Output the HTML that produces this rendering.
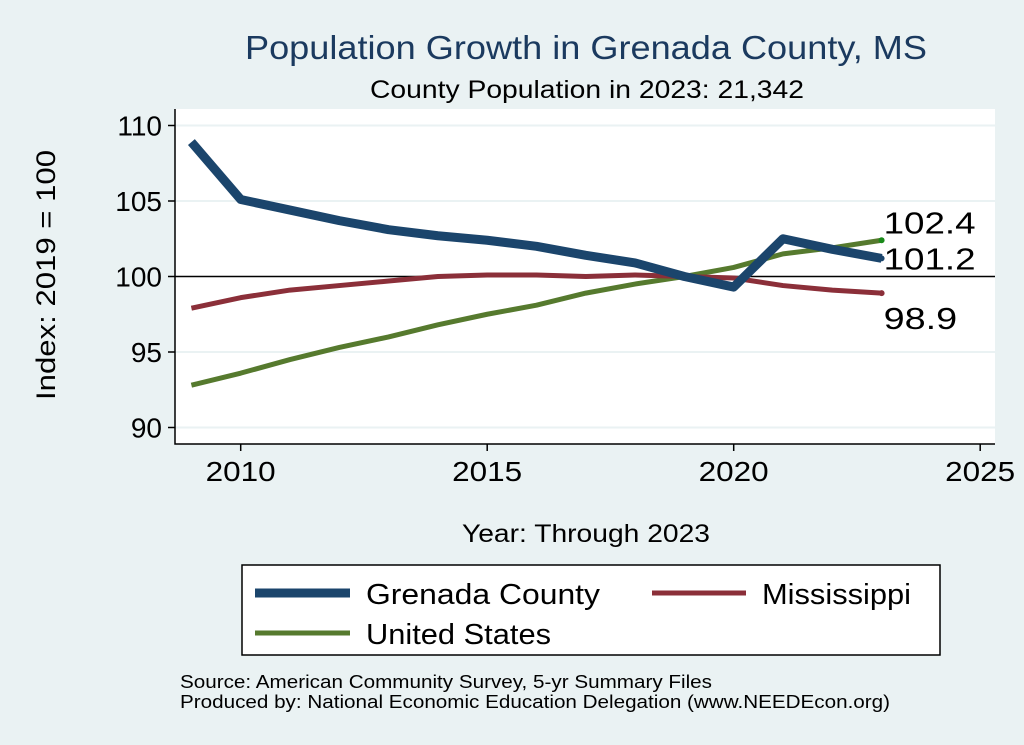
<!DOCTYPE html>
<html><head><meta charset="utf-8"><style>
body{margin:0;background:#eaf2f3;}
svg{display:block;font-family:"Liberation Sans",sans-serif;}
</style></head><body>
<svg width="1024" height="745">
<rect x="0" y="0" width="1024" height="745" fill="#eaf2f3"/>
<text x="245" y="59" font-size="33" fill="#1b3a5f" textLength="682" lengthAdjust="spacingAndGlyphs">Population Growth in Grenada County, MS</text>
<text x="370" y="98" font-size="25" fill="#000" textLength="434" lengthAdjust="spacingAndGlyphs">County Population in 2023: 21,342</text>
<rect x="175" y="109" width="820" height="335" fill="#fff"/>
<g id="grid"></g>
<g id="series"></g>
<g id="axes"></g>
<text x="55" y="400" font-size="27" textLength="250" lengthAdjust="spacingAndGlyphs" transform="rotate(-90 55 400)">Index: 2019 = 100</text>
<text x="462" y="542" font-size="25" textLength="248" lengthAdjust="spacingAndGlyphs">Year: Through 2023</text>
<g>
<rect x="242" y="565" width="698" height="90" fill="#fff" stroke="#000" stroke-width="1.5"/>
<line x1="255" y1="593" x2="350" y2="593" stroke="#1b456c" stroke-width="9"/>
<text x="366" y="604" font-size="29" textLength="234" lengthAdjust="spacingAndGlyphs">Grenada  County</text>
<line x1="652" y1="593" x2="746" y2="593" stroke="#8b2f39" stroke-width="5"/>
<text x="762" y="604" font-size="29" textLength="149" lengthAdjust="spacingAndGlyphs">Mississippi</text>
<line x1="255" y1="633" x2="350" y2="633" stroke="#567a2e" stroke-width="5"/>
<text x="366" y="644" font-size="29" textLength="185" lengthAdjust="spacingAndGlyphs">United States</text>
</g>
<text x="180" y="688" font-size="18" textLength="532" lengthAdjust="spacingAndGlyphs">Source: American Community Survey, 5-yr Summary Files</text>
<text x="180" y="708" font-size="18" textLength="710" lengthAdjust="spacingAndGlyphs">Produced by: National Economic Education Delegation (www.NEEDEcon.org)</text>
</svg>
<script>
const years=[2009,2010,2011,2012,2013,2014,2015,2016,2017,2018,2019,2020,2021,2022,2023];
const grenada=[108.9,105.1,104.4,103.7,103.1,102.7,102.4,102.0,101.4,100.9,100,99.3,102.5,101.8,101.2];
const mississippi=[97.9,98.6,99.1,99.4,99.7,100.0,100.1,100.1,100.0,100.1,100,99.9,99.4,99.1,98.9];
const unitedStates=[92.8,93.6,94.5,95.3,96.0,96.8,97.5,98.1,98.9,99.5,100,100.6,101.5,101.9,102.4];
const yTicks=[90,95,100,105,110];
const xTicks=[2010,2015,2020,2025];
const NS="http://www.w3.org/2000/svg";
const xs=v=>240.7+(v-2010)*49.3;
const ys=v=>276.5-(v-100)*15.1;
function mk(tag,attrs,parent,txt){const e=document.createElementNS(NS,tag);for(const k in attrs)e.setAttribute(k,attrs[k]);if(txt!==undefined)e.textContent=txt;document.getElementById(parent).appendChild(e);return e;}
yTicks.forEach(t=>{
 if(t!==100){const g=mk('line',{x1:175,x2:995,y1:ys(t),y2:ys(t),stroke:'#eaf2f3','stroke-width':2},'grid');
 
 }
 const tk=mk('line',{x1:168,x2:175,y1:ys(t),y2:ys(t),stroke:'#000','stroke-width':1.5},'axes');
 
 
 const lb=mk('text',{x:162,y:ys(t)+10,'font-size':28,'text-anchor':'end'},'axes',t);
 
 
});
const ref=mk('line',{x1:175,x2:995,y1:ys(100),y2:ys(100),stroke:'#000','stroke-width':1.5},'grid');


xTicks.forEach(t=>{
 const tk=mk('line',{x1:xs(t),x2:xs(t),y1:444,y2:451,stroke:'#000','stroke-width':1.5},'axes');
 
 
 const lb=mk('text',{x:xs(t)-35,y:481,'font-size':28,textLength:70,lengthAdjust:'spacingAndGlyphs'},'axes',t);
 
 
});
const ax=mk('path',{d:'M175 109 V444 H995',fill:'none',stroke:'#000','stroke-width':1.5},'axes');


function line(vals,color,w,name){
 const p=mk('polyline',{points:vals.map((v,i)=>xs(years[i])+','+ys(v)).join(' '),fill:'none',stroke:color,'stroke-width':w,'stroke-linejoin':'round'},'series');
 
 
}
line(unitedStates,'#567a2e',5,'line-united-states');
line(mississippi,'#8b2f39',5,'line-mississippi');
line(grenada,'#1b456c',9,'line-grenada-county');
const n=years.length-1;
[[unitedStates,'#1a8a1a',-7,'label-united-states'],[grenada,'#1b456c',11,'label-grenada'],[mississippi,'#8b2f39',36,'label-mississippi']].forEach(([a,c,dy,nm])=>{
 const d=mk('circle',{cx:xs(years[n]),cy:ys(a[n]),r:3,fill:c},'series');
 
 
 const s=a[n].toFixed(1);
 const t=mk('text',{x:xs(years[n])+2,y:ys(a[n])+dy,'font-size':31,textLength:s.length*18.4,lengthAdjust:'spacingAndGlyphs'},'series',s);
 
 
});
</script>
</body></html>
